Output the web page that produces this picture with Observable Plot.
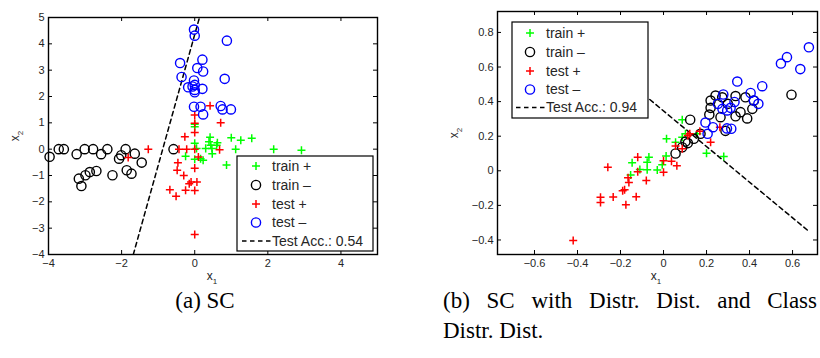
<!DOCTYPE html>
<html><head><meta charset="utf-8">
<script src="https://cdn.jsdelivr.net/npm/d3@7"></script>
<script src="https://cdn.jsdelivr.net/npm/@observablehq/plot@0.6"></script>
<style>
body{margin:0;background:#fff;}
#root{position:relative;width:820px;height:358px;overflow:hidden;background:#fff;}
.panel{position:absolute;top:0;}
.panel svg{overflow:visible;}
#overlay{position:absolute;left:0;top:0;}
</style></head><body><div id="root"></div>
<script>
// ---------- DATA ----------
const seriesNames = ["train +", "train \u2013", "test +", "test \u2013"];
const seriesColors = ["#00ff00", "#000000", "#ff0000", "#0000ff"];
const seriesSymbols = ["plus", "circle", "plus", "circle"];

// Panel (a) SC
const aTrainPos = [[0,0.95],[0,0.85],[0.42,0.45],[0.39,0.28],[0.62,0.24],[1.0,0.43],[1.26,0.34],[1.56,0.41],[2.16,0],[2.92,-0.04],[1.12,0],[0.47,0.03],[0.3,0.03],[0,0.22],[-0.25,-0.27],[0,-0.38],[0.23,-0.42],[0.16,-0.36],[0.87,-0.6],[0.48,-0.17],[0.44,0.15],[0.6,0.15],[0.05,0.03]];
const aTrainNeg = [[-3.97,-0.29],[-3.72,0],[-3.58,0],[-3.23,-0.19],[-3.01,0],[-2.78,0],[-2.56,-0.19],[-2.39,0],[-2.07,-0.36],[-2.01,-0.23],[-1.89,0],[-1.64,-0.17],[-1.45,-0.51],[-3.17,-1.12],[-2.99,-0.99],[-2.87,-0.87],[-2.69,-0.83],[-3.1,-1.4],[-2.25,-0.99],[-1.86,-0.8],[-1.73,-0.93],[-0.58,0]];
const aTestPos = [[-1.27,0],[-1.82,-0.32],[0,-3.24],[0,1.3],[0,0.98],[0,0.63],[-0.27,0.47],[0.42,1.65],[0.71,1.0],[-0.43,0],[-0.22,0],[0,0],[0.68,-0.02],[0.1,-0.3],[-0.46,-0.52],[-0.48,-0.8],[-0.3,-1.0],[0,-0.72],[-0.15,-1.31],[-0.1,-1.25],[0.06,-1.25],[-0.25,-1.56],[0,-1.57],[-0.68,-1.54],[-0.51,-1.79]];
const aTestNeg = [[-0.02,4.54],[0,4.31],[0.88,4.12],[-0.4,3.27],[0.21,3.4],[0.07,3.08],[0.23,2.95],[-0.36,2.74],[0.82,2.67],[-0.02,2.61],[-0.18,2.35],[0,2.44],[0,2.25],[0.21,2.29],[0,2.16],[-0.06,2.38],[-0.02,1.61],[0.16,1.61],[0.23,1.32],[0.71,1.64],[0.76,1.51],[0.99,1.51]];
const aBoundary = [[-1.68,-4],[0.13,5]];
const aAccuracy = "Test Acc.: 0.54";
const aXTicks = [-4,-2,0,2,4];
const aYTicks = [-4,-3,-2,-1,0,1,2,3,4,5];
const aXDomain = [-4,5];
const aYDomain = [-4,5];
const aCaption = ["(a) SC"];

// Panel (b) SC with Distr. Dist. and Class Distr. Dist.
const bTrainPos = [[0.087,0.295],[0.014,0.185],[0.056,0.165],[0.087,0.194],[0.157,0.214],[0.2,0.102],[0.28,0.083],[-0.068,0.079],[-0.076,0.05],[-0.146,0.046],[-0.153,-0.024],[-0.11,0.007],[-0.076,0.006],[-0.029,0.004],[-0.006,0.035],[0.012,0.085],[0.102,0.214]];
const bTrainNeg = [[0.124,0.295],[0.595,0.44],[0.219,0.406],[0.242,0.435],[0.273,0.425],[0.335,0.432],[0.381,0.425],[0.42,0.406],[0.413,0.358],[0.358,0.339],[0.335,0.315],[0.389,0.303],[0.219,0.364],[0.213,0.325],[0.288,0.231],[0.299,0.387],[0.265,0.31],[0.056,0.1],[0.087,0.136],[0.113,0.16],[0.141,0.185],[0.172,0.214],[0.102,0.169]];
const bTestPos = [[-0.42,-0.403],[-0.293,-0.153],[-0.293,-0.184],[-0.234,-0.152],[-0.175,-0.196],[-0.127,-0.15],[-0.19,-0.116],[-0.181,-0.11],[-0.161,-0.068],[-0.165,-0.04],[-0.08,-0.056],[-0.12,-0.005],[-0.12,0.079],[-0.259,0.021],[0,-0.008],[0,0.058],[0.037,0.055],[0.062,0.029],[0.056,0.143],[0.087,0.127],[0.122,0.214],[0.169,0.229],[0.219,0.165],[0.262,0.252],[0.113,0.204]];
const bTestNeg = [[0.676,0.714],[0.574,0.657],[0.546,0.62],[0.636,0.588],[0.343,0.516],[0.459,0.489],[0.405,0.45],[0.42,0.406],[0.441,0.387],[0.278,0.441],[0.253,0.387],[0.33,0.398],[0.274,0.358],[0.312,0.364],[0.296,0.349],[0.195,0.279],[0.23,0.252],[0.295,0.245],[0.315,0.243],[0.205,0.214]];
const bBoundary = [[-0.293,0.648],[0.671,-0.345]];
const bAccuracy = "Test Acc.: 0.94";
const bXTicks = [-0.6,-0.4,-0.2,0,0.2,0.4,0.6];
const bYTicks = [-0.4,-0.2,0,0.2,0.4,0.6,0.8];
const bXDomain = [-0.772,0.716];
const bYDomain = [-0.484,0.921];
const bCaption = ["(b) SC with Distr. Dist. and Class", "Distr. Dist."];

const xLabel = ["x","1"];
const yLabel = ["x","2"];

// ---------- DRAW ----------
const tickColor = "#262626";
const fmt = d => (d < 0 ? "\u2212" : "") + String(Math.abs(d));
const PLUS_R = 2.7, CIRC_R = 4.6;

function makePanel(cfg) {
  const {series, boundary, xDomain, yDomain, xTicks, yTicks, width, height, mt, mr, mb, ml} = cfg;
  const ih = height - mt - mb, iw = width - ml - mr, tl = 4;
  const marks = [];
  marks.push(Plot.line(boundary, {x: d => d[0], y: d => d[1], stroke: "black", strokeWidth: 1.5, strokeDasharray: "4.5,3.5", clip: true}));
  series.forEach((data, i) => {
    const circ = seriesSymbols[i] === "circle";
    marks.push(Plot.dot(data, {x: d => d[0], y: d => d[1], symbol: seriesSymbols[i],
      r: circ ? CIRC_R : PLUS_R, stroke: seriesColors[i], fill: "none", strokeWidth: circ ? 1.4 : 1.5}));
  });
  marks.push(Plot.tickX(xTicks, {x: d => d, insetTop: ih - tl, stroke: "black"}));
  marks.push(Plot.tickX(xTicks, {x: d => d, insetBottom: ih - tl, stroke: "black"}));
  marks.push(Plot.tickY(yTicks, {y: d => d, insetRight: iw - tl, stroke: "black"}));
  marks.push(Plot.tickY(yTicks, {y: d => d, insetLeft: iw - tl, stroke: "black"}));
  marks.push(Plot.axisX(xTicks, {tickSize: 0, tickPadding: 5, tickFormat: fmt, label: null, fill: tickColor}));
  marks.push(Plot.axisY(yTicks, {tickSize: 0, tickPadding: 4, tickFormat: fmt, label: null, fill: tickColor}));
  marks.push(Plot.frame({stroke: "black", strokeWidth: 1.4}));
  return Plot.plot({
    width, height, marginTop: mt, marginRight: mr, marginBottom: mb, marginLeft: ml,
    x: {domain: xDomain}, y: {domain: yDomain},
    style: {fontFamily: "'Liberation Sans', Arial, sans-serif", fontSize: "11px", background: "transparent", overflow: "visible"},
    marks
  });
}

const root = document.getElementById("root");
function place(el, left) {
  const d = document.createElement("div");
  d.className = "panel"; d.style.left = left + "px";
  d.appendChild(el); root.appendChild(d);
}

const A = {left: 0, width: 390, height: 270, mt: 17, mr: 13, mb: 16, ml: 48};
const B = {left: 440, width: 380, height: 270, mt: 11, mr: 3, mb: 16, ml: 57};

place(makePanel({...A, series: [aTrainPos, aTrainNeg, aTestPos, aTestNeg], boundary: aBoundary,
  xDomain: aXDomain, yDomain: aYDomain, xTicks: aXTicks, yTicks: aYTicks}), A.left);
place(makePanel({...B, series: [bTrainPos, bTrainNeg, bTestPos, bTestNeg], boundary: bBoundary,
  xDomain: bXDomain, yDomain: bYDomain, xTicks: bXTicks, yTicks: bYTicks}), B.left);

// overlay: legends, axis titles, captions
const svg = d3.select(root).append("svg").attr("id", "overlay").attr("width", 820).attr("height", 358);
const sans = "'Liberation Sans', Arial, sans-serif";
const serif = "'Liberation Serif', 'Times New Roman', serif";

function legend(x0, y0, w, h, symX, textX, rowY, acc) {
  const g = svg.append("g").attr("font-family", sans).attr("font-size", 14).attr("fill", tickColor);
  g.append("rect").attr("x", x0).attr("y", y0).attr("width", w).attr("height", h)
    .attr("fill", "white").attr("stroke", "black").attr("stroke-width", 1.2);
  const symMap = {plus: d3.symbolPlus, circle: d3.symbolCircle};
  seriesNames.forEach((name, i) => {
    const circ = seriesSymbols[i] === "circle";
    const r = circ ? CIRC_R : PLUS_R;
    g.append("path").attr("d", d3.symbol(symMap[seriesSymbols[i]], Math.PI * r * r)())
      .attr("transform", `translate(${symX},${rowY[i]})`)
      .attr("fill", "none").attr("stroke", seriesColors[i]).attr("stroke-width", circ ? 1.4 : 1.5);
    g.append("text").attr("x", textX).attr("y", rowY[i]).attr("dy", "0.35em").text(name);
  });
  g.append("line").attr("x1", symX - 14).attr("x2", textX - 1).attr("y1", rowY[4]).attr("y2", rowY[4])
    .attr("stroke", "black").attr("stroke-width", 1.5).attr("stroke-dasharray", "4.5,3.5");
  g.append("text").attr("x", textX).attr("y", rowY[4]).attr("dy", "0.35em").text(acc);
}
legend(237, 156, 136, 95, 256, 272, [166, 185, 204, 222.5, 241], aAccuracy);
legend(512, 22, 136, 96, 530, 546, [33, 52, 71, 89.5, 107.5], bAccuracy);

function axisTitle(x, y, parts, rotate) {
  const t = svg.append("text").attr("font-family", sans).attr("font-size", 12).attr("fill", tickColor)
    .attr("text-anchor", "middle")
    .attr("transform", `translate(${x},${y})` + (rotate ? " rotate(-90)" : ""));
  t.append("tspan").text(parts[0]);
  t.append("tspan").attr("dy", 3.5).attr("font-size", 8).text(parts[1]);
}
axisTitle(212, 280, xLabel, false);
axisTitle(656, 280, xLabel, false);
axisTitle(19, 136, yLabel, true);
axisTitle(458, 133, yLabel, true);

// captions; first line of a multi-line caption is justified to the given width
function caption(x, y, lines, anchor, justifyWidth) {
  lines.forEach((ln, i) => {
    const t = svg.append("text").attr("x", x).attr("y", y + i * 30).attr("font-family", serif)
      .attr("font-size", 23).attr("fill", "black").attr("text-anchor", anchor).text(ln);
    if (justifyWidth && i < lines.length - 1) {
      const natural = t.node().getComputedTextLength();
      const gaps = (ln.match(/ /g) || []).length;
      if (gaps) t.attr("word-spacing", Math.max(0, (justifyWidth - natural) / gaps));
    }
  });
}
caption(205, 308, aCaption, "middle", 0);
caption(443, 308, bCaption, "start", 374);
</script></body></html>
